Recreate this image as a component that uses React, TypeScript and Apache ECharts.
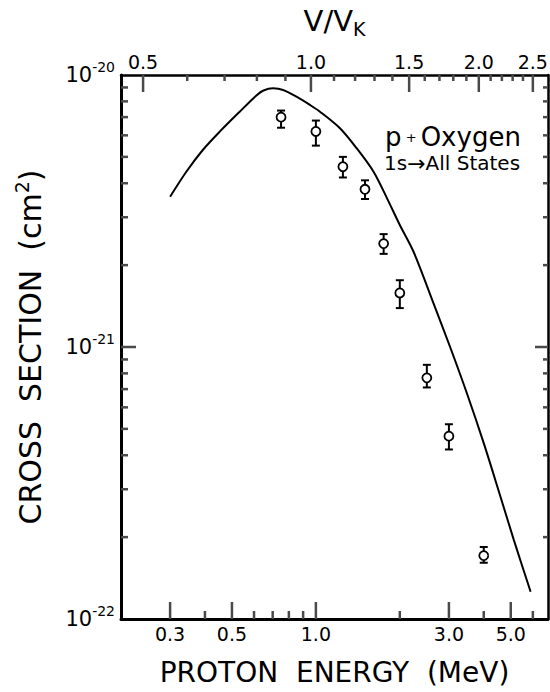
import React, { useEffect, useRef } from "react";
import * as echarts from "echarts";

// ---------- data (cross sections in cm^2, energies in MeV) ----------
const measuredEnergy = [0.75, 1.0, 1.25, 1.5, 1.75, 2.0, 2.5, 3.0, 4.0];
const measuredSigma = [7.0e-21, 6.2e-21, 4.6e-21, 3.8e-21, 2.4e-21, 1.58e-21, 7.7e-22, 4.7e-22, 1.71e-22];
const measuredLow = [6.4e-21, 5.5e-21, 4.2e-21, 3.5e-21, 2.2e-21, 1.39e-21, 7.1e-22, 4.2e-22, 1.61e-22];
const measuredHigh = [7.4e-21, 6.8e-21, 5.0e-21, 4.1e-21, 2.6e-21, 1.76e-21, 8.6e-22, 5.2e-22, 1.84e-22];

const theoryEnergy = [0.3, 0.343, 0.393, 0.452, 0.533, 0.612, 0.646, 0.702, 0.763, 0.852, 0.952, 1.034, 1.22, 1.4, 1.61, 1.8, 2.0, 2.24, 2.64, 3.03, 3.48, 4.0, 4.59, 5.13, 5.89];
const theorySigma = [3.57e-21, 4.41e-21, 5.3e-21, 6.19e-21, 7.33e-21, 8.41e-21, 8.75e-21, 8.93e-21, 8.81e-21, 8.32e-21, 7.76e-21, 7.33e-21, 6.37e-21, 5.38e-21, 4.41e-21, 3.52e-21, 2.81e-21, 2.24e-21, 1.45e-21, 1.0e-21, 6.76e-22, 4.43e-22, 2.82e-22, 1.95e-22, 1.26e-22];

// bottom axis (proton energy, MeV)
const bottomMajorTicks = [0.3, 0.5, 1.0, 3.0, 5.0];
const bottomTickLabels = ["0.3", "0.5", "1.0", "3.0", "5.0"];
const bottomMinorTicks = [0.4, 0.6, 0.7, 0.8, 0.9, 2.0, 4.0, 6.0];

// top axis (V/V_K)
const topMajorTicks = [0.5, 1.0, 1.5, 2.0, 2.5];
const topTickLabels = ["0.5", "1.0", "1.5", "2.0", "2.5"];
const topMinorTicks = [0.6, 0.7, 0.8, 0.9, 1.1, 1.2, 1.3, 1.4, 1.6, 1.7, 1.8, 1.9, 2.1, 2.2, 2.3, 2.4];
const EK = 0.96; // proton energy (MeV) at V/V_K = 1

// y axis (cm^2)
const yDecades = [1e-22, 1e-21];
const yMinorMantissas = [2, 3, 4, 5, 6, 7, 8, 9];
const yMajorTicks = [1e-21];

// ---------- axis ranges ----------
const Y_UNIT = 1e-22; // plotted in units of 1e-22 cm^2
const X_MIN = 0.2;
const X_MAX = 6.8;
const Y_MIN = 1e-22 / Y_UNIT;
const Y_MAX = 1e-20 / Y_UNIT;

const FONT = "'DejaVu Sans', 'Liberation Sans', Arial, sans-serif";
const TW = 2.5; // tick thickness
const TICK_COLOR = "#4a4a4a";

type XLabel = { e: number; top: boolean; label: string };

function tickSeries(data: number[][], size: number[], offset: number[]) {
  return {
    type: "scatter",
    xAxisIndex: 0,
    yAxisIndex: 0,
    data,
    symbol: "rect",
    symbolSize: size,
    symbolOffset: offset,
    itemStyle: { color: TICK_COLOR, opacity: 1 },
    clip: false,
    silent: true,
    z: 4,
  };
}

export default function App() {
  const ref = useRef<HTMLDivElement>(null);

  useEffect(() => {
    document.body.style.margin = "0";
    const chart = echarts.init(ref.current as HTMLDivElement, null, { renderer: "svg" });

    const topE = (v: number) => EK * v * v;
    const yMinor: number[] = [];
    yDecades.forEach((d) => yMinorMantissas.forEach((m) => yMinor.push((m * d) / Y_UNIT)));
    const yMajor = yMajorTicks.map((v) => v / Y_UNIT);
    const topMajorE = topMajorTicks.map(topE);
    const topMinorE = topMinorTicks.map(topE);

    const xLabels: XLabel[] = [
      ...bottomMajorTicks.map((e, i) => ({ e, top: false, label: bottomTickLabels[i] })),
      ...topMajorTicks.map((v, i) => ({ e: topE(v), top: true, label: topTickLabels[i] })),
    ];

    const option: any = {
      animation: false,
      backgroundColor: "#ffffff",
      grid: { left: 121, right: 2, top: 75, bottom: 73, containLabel: false },
      xAxis: [
        {
          type: "log", logBase: 10, min: X_MIN, max: X_MAX, position: "bottom",
          axisLine: { show: true, onZero: false, lineStyle: { color: "#000", width: 3 } },
          axisTick: { show: false }, axisLabel: { show: false }, splitLine: { show: false },
          name: "PROTON  ENERGY  (MeV)", nameLocation: "middle", nameGap: 39,
          nameTextStyle: { fontFamily: FONT, fontSize: 28, color: "#000" },
        },
        {
          type: "log", logBase: 10, min: X_MIN, max: X_MAX, position: "top",
          axisLine: { show: true, onZero: false, lineStyle: { color: "#000", width: 2.5 } },
          axisTick: { show: false }, axisLabel: { show: false }, splitLine: { show: false },
          name: "{a|V/V}{k|K}", nameLocation: "middle", nameGap: 37,
          nameTextStyle: {
            fontFamily: FONT, fontSize: 29, color: "#000",
            rich: {
              a: { fontFamily: FONT, fontSize: 29, color: "#000", lineHeight: 34 },
              k: { fontFamily: FONT, fontSize: 19, color: "#000", lineHeight: 16, verticalAlign: "bottom" },
            },
          },
        },
      ],
      yAxis: [
        {
          type: "log", logBase: 10, min: Y_MIN, max: Y_MAX, position: "left",
          axisLine: { show: true, onZero: false, lineStyle: { color: "#000", width: 3 } },
          axisTick: { show: false }, splitLine: { show: false },
          axisLabel: {
            margin: 6, fontFamily: FONT, fontSize: 21, color: "#000",
            formatter: (v: number) => "{b|10}{s|" + Math.round(Math.log10(v * Y_UNIT)) + "}",
            rich: {
              b: { fontFamily: FONT, fontSize: 21, color: "#000", lineHeight: 30 },
              s: { fontFamily: FONT, fontSize: 14, color: "#000", lineHeight: 14, verticalAlign: "top" },
            },
          },
          name: "{a|CROSS  SECTION  (cm}{s|2}{a|)}", nameLocation: "middle", nameGap: 73,
          nameTextStyle: {
            fontFamily: FONT, fontSize: 30, color: "#000",
            rich: {
              a: { fontFamily: FONT, fontSize: 30, color: "#000", lineHeight: 36 },
              s: { fontFamily: FONT, fontSize: 19, color: "#000", lineHeight: 18, verticalAlign: "top" },
            },
          },
        },
        {
          type: "log", logBase: 10, min: Y_MIN, max: Y_MAX, position: "right",
          axisLine: { show: true, onZero: false, lineStyle: { color: "#000", width: 2.5 } },
          axisTick: { show: false }, axisLabel: { show: false }, splitLine: { show: false },
        },
      ],
      graphic: [
        {
          type: "text", x: 385, y: 121,
          style: {
            text: "{p|p}{pl| + }{o|Oxygen}", fontFamily: FONT, fontSize: 26, fill: "#000",
            rich: {
              p: { fontFamily: FONT, fontSize: 26, fill: "#000", lineHeight: 32 },
              pl: { fontFamily: FONT, fontSize: 13, fill: "#000", lineHeight: 30 },
              o: { fontFamily: FONT, fontSize: 26, fill: "#000", lineHeight: 32 },
            },
          },
        },
        {
          type: "text", x: 384, y: 150,
          style: {
            text: "{a|1s}{r|\u2192}{a|All States}", fontFamily: FONT, fontSize: 20, fill: "#000",
            rich: {
              a: { fontFamily: FONT, fontSize: 20, fill: "#000", lineHeight: 26 },
              r: { fontFamily: FONT, fontSize: 22, fill: "#000", lineHeight: 26 },
            },
          },
        },
      ],
      series: [
        {
          name: "theory", type: "line", xAxisIndex: 0, yAxisIndex: 0,
          data: theoryEnergy.map((e, i) => [e, theorySigma[i] / Y_UNIT]),
          showSymbol: false, smooth: 0.3, lineStyle: { color: "#000", width: 2 }, silent: true, z: 2,
        },
        {
          name: "errors", type: "custom", xAxisIndex: 0, yAxisIndex: 0, clip: false, silent: true,
          data: measuredEnergy.map((e, i) => [e, measuredLow[i] / Y_UNIT, measuredHigh[i] / Y_UNIT]),
          encode: { x: 0, y: [1, 2] },
          renderItem: (params: any, api: any) => {
            const lo = api.coord([api.value(0), api.value(1)]);
            const hi = api.coord([api.value(0), api.value(2)]);
            const cap = 4;
            const st = { stroke: "#000", lineWidth: 2 };
            return {
              type: "group",
              children: [
                { type: "line", shape: { x1: lo[0], y1: lo[1], x2: hi[0], y2: hi[1] }, style: st },
                { type: "line", shape: { x1: lo[0] - cap, y1: lo[1], x2: lo[0] + cap, y2: lo[1] }, style: st },
                { type: "line", shape: { x1: hi[0] - cap, y1: hi[1], x2: hi[0] + cap, y2: hi[1] }, style: st },
              ],
            };
          },
          z: 3,
        },
        {
          name: "measured", type: "scatter", xAxisIndex: 0, yAxisIndex: 0,
          data: measuredEnergy.map((e, i) => [e, measuredSigma[i] / Y_UNIT]),
          symbol: "circle", symbolSize: 9,
          itemStyle: { color: "#fff", borderColor: "#000", borderWidth: 1.8, opacity: 1 },
          silent: true, z: 4,
        },
        // inward tick marks on all four sides
        tickSeries(bottomMajorTicks.map((e) => [e, Y_MIN]), [TW, 17], [0, -8.5]),
        tickSeries(bottomMinorTicks.map((e) => [e, Y_MIN]), [TW, 8], [0, -4]),
        tickSeries(topMajorE.map((e) => [e, Y_MAX]), [TW, 17], [0, 8.5]),
        tickSeries(topMinorE.map((e) => [e, Y_MAX]), [TW, 6], [0, 3]),
        tickSeries(yMajor.map((v) => [X_MIN, v]), [15, TW], [7.5, 0]),
        tickSeries(yMinor.map((v) => [X_MIN, v]), [7, TW], [3.5, 0]),
        tickSeries(yMajor.map((v) => [X_MAX, v]), [13, TW], [-6.5, 0]),
        tickSeries(yMinor.map((v) => [X_MAX, v]), [5, TW], [-2.5, 0]),
        {
          name: "xlabels", type: "custom", xAxisIndex: 0, yAxisIndex: 0, clip: false, silent: true,
          data: xLabels.map((t) => [t.e, t.top ? Y_MAX : Y_MIN]),
          encode: { x: 0, y: 1 },
          renderItem: (params: any, api: any) => {
            const t = xLabels[params.dataIndex];
            const p = api.coord([t.e, t.top ? Y_MAX : Y_MIN]);
            return {
              type: "text", x: p[0], y: t.top ? p[1] - 13 : p[1] + 15,
              style: { text: t.label, fill: "#000", fontSize: 19, fontFamily: FONT, align: "center", verticalAlign: "middle" },
            };
          },
          z: 4,
        },
      ],
    };

    chart.setOption(option);
    chart.setOption({ graphic: option.graphic });
    return () => chart.dispose();
  }, []);

  return <div ref={ref} style={{ width: 550, height: 692 }} />;
}
